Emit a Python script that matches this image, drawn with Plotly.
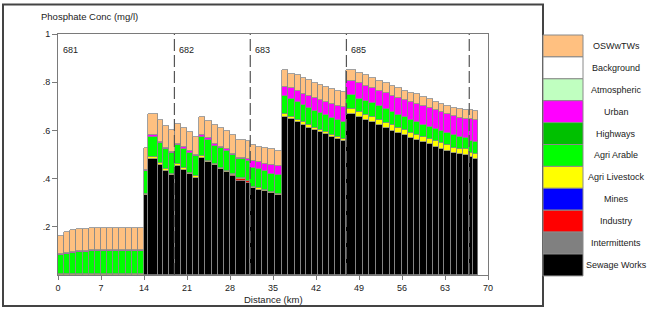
import numpy as np
import plotly.graph_objects as go

# ---------------- data ----------------
# bar boundaries along the river (km)
distance_km = [0, 1, 2, 3, 4, 5, 6, 7, 8, 9, 10, 11, 12, 13, 14,
               14.6, 16.2, 17.1, 18.1, 19.0, 20.0, 21.05, 22.0, 23.0, 24.0, 25.0, 26.0, 27.0, 28.0, 29.0, 30.65, 31.3,
               32.3, 33.2, 34.2, 35.3, 36.4,
               37.4, 38.5, 39.5, 40.4, 41.4, 42.4, 43.2, 44.1, 45.1, 46.1, 46.9,
               48.5, 49.6, 50.7, 51.8, 52.9, 54.0, 54.9, 56.0, 57.0, 58.0, 58.9, 60.0, 61.0, 62.0, 62.9, 63.9, 64.9, 66.0, 66.95,
               67.6, 68.4]

sewage_works = [0]*14 + [
    .330, .482, .457, .433, .415, .454, .435, .418, .403, .486, .470, .455, .440, .426, .412, .389, .382,
    .360, .354, .347, .340, .332,
    .657, .646, .635, .624, .612, .601, .593, .585, .574, .565, .557,
    .668, .657, .643, .635, .621, .610, .599, .588, .579, .568, .560, .551, .543, .532, .524, .515, .507, .501, .499,
    .488, .482]
intermittents = [0.0] * 68
industry = [0]*14 + [
    0, 0, 0, 0, 0, 0, 0, 0, 0, 0, 0, 0, 0, 0, .004, .008, .006,
    0, 0, 0, 0, 0,
    0, 0, 0, 0, 0, 0, 0, 0, 0, 0, 0,
    0, 0, 0, 0, 0, 0, 0, 0, 0, 0, 0, 0, 0, 0, 0, 0, 0, 0, 0,
    0, 0]
mines = [0.0] * 68
agri_livestock = [.003]*14 + [
    .008, .006, .006, .006, .006, .006, .007, .007, .007, .007, .005, .006, .006, .006, .004, .004, .004,
    .005, .006, .006, .006, .006,
    .010, .009, .009, .009, .009, .009, .009, .009, .009, .009, .009,
    .020, .019, .022, .022, .022, .019, .022, .022, .022, .022, .019, .020, .020, .022, .022, .023, .022, .023, .022,
    .019, .022]
agri_arable = [.080, .086, .090, .094, .094, .096, .097, .097, .097, .097, .097, .097, .097, .097,
    .092, .086, .084, .083, .084, .079, .082, .082, .082, .081, .085, .075, .079, .082, .076, .081, .083,
    .079, .078, .077, .075, .077,
    .076, .074, .074, .071, .072, .069, .069, .069, .068, .069, .069,
    .058, .056, .056, .055, .058, .059, .055, .055, .053, .053, .056, .053, .052, .050, .050, .050, .050, .050, .047,
    .050, .047]
highways = [0.0] * 68
urban = [.003]*14 + [
    .004, .005, .006, .006, .006, .005, .006, .007, .005, .005, .007, .008, .005, .007, .007, .004, .005,
    .031, .030, .031, .036, .039,
    .039, .045, .045, .047, .050, .056, .055, .055, .059, .058, .061,
    .061, .064, .064, .063, .062, .066, .067, .070, .072, .075, .075, .077, .078, .081, .080, .080, .081, .077, .081,
    .089, .092]
atmospheric = [0.0] * 68
background = [0.0] * 68
oswwtws = [.074, .086, .090, .090, .090, .091, .090, .090, .090, .090, .090, .090, .090, .090,
    .093, .088, .090, .089, .089, .081, .078, .078, .075, .078, .072, .080, .081, .076, .080, .076, .077,
    .065, .064, .065, .064, .061,
    .068, .062, .066, .066, .067, .061, .062, .061, .061, .061, .064,
    .044, .044, .044, .041, .042, .042, .042, .041, .039, .039, .039, .037, .036, .033, .034, .033, .033, .037, .036,
    .039, .036]

series_names = ["Sewage Works", "Intermittents", "Industry", "Mines", "Agri Livestock",
                "Agri Arable", "Highways", "Urban", "Atmospheric", "Background", "OSWwTWs"]
series_colors = ["#000000", "#808080", "#FF0000", "#0000FF", "#FFFF00",
                 "#00FF00", "#00C000", "#FF00FF", "#C0FFC0", "#FFFFFF", "#FFC080"]
series_values = [sewage_works, intermittents, industry, mines, agri_livestock,
                 agri_arable, highways, urban, atmospheric, background, oswwtws]

reach_names = ["681", "682", "683", "685"]
reach_start_km = [0, 18.95, 31.3, 46.95]
reach_end_dash_km = [18.95, 31.3, 46.95, 66.95]

x_ticks = [0, 7, 14, 21, 28, 35, 42, 49, 56, 63, 70]
y_ticks = [0.2, 0.4, 0.6, 0.8, 1.0]
y_tick_text = [".2", ".4", ".6", ".8", "1"]

# ---------------- figure ----------------
edges = np.array(distance_km, dtype=float)
centers = (edges[:-1] + edges[1:]) / 2
widths = np.diff(edges)

FONT = "Arial, Liberation Sans, sans-serif"
fig = go.Figure()
for name, color, vals in zip(series_names, series_colors, series_values):
    v = [val if val > 0 else None for val in vals]
    fig.add_trace(go.Bar(
        x=centers, y=v, width=widths, name=name,
        marker=dict(color=color, line=dict(color="#8a8a8a", width=0.8)),
        showlegend=False, hoverinfo="name+y"))

L, R, T, B = 58, 177, 34, 50
W, H = 665, 325
PW, PH = W - L - R, H - T - B

def px(xp):
    return (xp - L) / PW

def py(yp):
    return (H - B - yp) / PH

shapes = []
annotations = []

# reach boundaries (dashed)
for xd in reach_end_dash_km:
    shapes.append(dict(type="line", xref="x", yref="paper", x0=xd, x1=xd, y0=0, y1=1,
                       line=dict(color="#555555", width=1.2, dash="12px,4px"), layer="above"))
for nm, xs in zip(reach_names, reach_start_km):
    annotations.append(dict(x=xs, y=py(50), xref="x", yref="paper", text=nm, showarrow=False,
                            xanchor="left", yanchor="middle", xshift=3,
                            font=dict(family=FONT, size=9, color="#222222")))

# outer frame
shapes.append(dict(type="rect", xref="paper", yref="paper", x0=px(3), x1=px(543), y0=py(306), y1=py(4.5),
                   line=dict(color="#444444", width=2), fillcolor="rgba(0,0,0,0)", layer="below"))

# legend
box_h = 21.9
legend_order = list(reversed(range(len(series_names))))
for i, k in enumerate(legend_order):
    top = 35 + i * box_h
    shapes.append(dict(type="rect", xref="paper", yref="paper", x0=px(543), x1=px(583),
                       y0=py(top + box_h), y1=py(top), fillcolor=series_colors[k],
                       line=dict(color="#8a8a8a", width=1)))
    annotations.append(dict(x=px(616), y=py(top + box_h / 2), xref="paper", yref="paper",
                            text=series_names[k], showarrow=False, xanchor="center", yanchor="middle",
                            font=dict(family=FONT, size=9, color="#222222")))

annotations.append(dict(x=px(39), y=py(16), xref="paper", yref="paper", text="Phosphate Conc (mg/l)",
                        showarrow=False, xanchor="left", yanchor="middle",
                        font=dict(family=FONT, size=9.5, color="#222222")))
annotations.append(dict(x=0.5, y=py(299), xref="paper", yref="paper", text="Distance (km)",
                        showarrow=False, xanchor="center", yanchor="middle",
                        font=dict(family=FONT, size=9.5, color="#222222")))

fig.update_layout(
    width=W, height=H, margin=dict(l=L, r=R, t=T, b=B, pad=0),
    barmode="stack", bargap=0,
    paper_bgcolor="white", plot_bgcolor="white",
    shapes=shapes, annotations=annotations,
    font=dict(family=FONT, size=9, color="#222222"),
    xaxis=dict(range=[0, 70], tickvals=x_ticks, ticktext=[str(t) for t in x_ticks],
               showgrid=False, zeroline=False, showline=True, linecolor="#7a7a7a", linewidth=1,
               mirror=True, ticks="outside", ticklen=4, tickcolor="#7a7a7a",
               tickfont=dict(family=FONT, size=9, color="#222222")),
    yaxis=dict(range=[0, 1], tickvals=y_ticks, ticktext=y_tick_text,
               showgrid=False, zeroline=False, showline=True, linecolor="#7a7a7a", linewidth=1,
               mirror=True, ticks="outside", ticklen=5, tickcolor="#7a7a7a",
               tickfont=dict(family=FONT, size=9, color="#222222")),
)

fig.write_html("out.html")
